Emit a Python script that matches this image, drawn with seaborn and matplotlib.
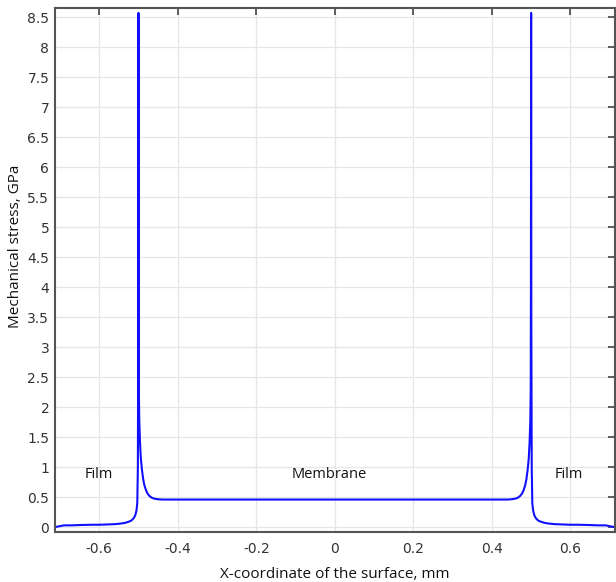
import numpy as np
import pandas as pd
import matplotlib
matplotlib.use('Agg')
import matplotlib.pyplot as plt
import seaborn as sns

# ---- data (x in mm, stress in GPa) ----
x_film_left = [-0.713, -0.705, -0.697, -0.690, -0.670, -0.650, -0.620, -0.600, -0.580,
               -0.560, -0.545, -0.535, -0.525, -0.518, -0.512, -0.508, -0.505,
               -0.503, -0.5015, -0.5005]
y_film_left = [0.00, 0.01, 0.02, 0.03, 0.03, 0.035, 0.04, 0.04, 0.045,
               0.05, 0.06, 0.07, 0.09, 0.11, 0.15, 0.20, 0.28,
               0.40, 1.00, 3.50]

x_peak_left = [-0.500]
y_peak_left = [8.57]

x_membrane = [-0.4995, -0.499, -0.498, -0.496, -0.494, -0.491, -0.488, -0.485,
              -0.481, -0.477, -0.472, -0.466, -0.460, -0.450, -0.440,
              -0.300, -0.200, -0.100, 0.000, 0.100, 0.200, 0.300,
              0.440, 0.450, 0.460, 0.466, 0.472, 0.477, 0.481, 0.485,
              0.488, 0.491, 0.494, 0.496, 0.498, 0.499, 0.4995]
y_membrane = [4.00, 2.30, 1.80, 1.40, 1.15, 0.95, 0.80, 0.70,
              0.62, 0.56, 0.52, 0.49, 0.475, 0.465, 0.46,
              0.46, 0.46, 0.46, 0.46, 0.46, 0.46, 0.46,
              0.46, 0.465, 0.475, 0.49, 0.52, 0.56, 0.62, 0.70,
              0.80, 0.95, 1.15, 1.40, 1.80, 2.30, 4.00]

x_peak_right = [0.500]
y_peak_right = [8.57]

x_film_right = [0.5005, 0.5015, 0.503, 0.505, 0.508, 0.512, 0.518, 0.525,
                0.535, 0.545, 0.560, 0.580, 0.600, 0.620, 0.650, 0.670,
                0.690, 0.697, 0.705, 0.713]
y_film_right = [3.50, 1.00, 0.40, 0.28, 0.20, 0.15, 0.11, 0.09,
                0.07, 0.06, 0.05, 0.045, 0.04, 0.04, 0.035, 0.03,
                0.03, 0.02, 0.01, 0.00]

x_ticks = [-0.6, -0.4, -0.2, 0, 0.2, 0.4, 0.6]
x_tick_labels = ['-0.6', '-0.4', '-0.2', '0', '0.2', '0.4', '0.6']
y_ticks = [0, 0.5, 1, 1.5, 2, 2.5, 3, 3.5, 4, 4.5, 5, 5.5, 6, 6.5, 7, 7.5, 8, 8.5]
y_tick_labels = ['0', '0.5', '1', '1.5', '2', '2.5', '3', '3.5', '4', '4.5',
                 '5', '5.5', '6', '6.5', '7', '7.5', '8', '8.5']

region_labels = ['Film', 'Membrane', 'Film']
region_x = [-0.6, -0.015, 0.597]

df = pd.DataFrame({
    'x': x_film_left + x_peak_left + x_membrane + x_peak_right + x_film_right,
    'stress': y_film_left + y_peak_left + y_membrane + y_peak_right + y_film_right,
})

sns.set_style('white')
plt.rcParams['font.family'] = ['DejaVu Sans']

fig = plt.figure(figsize=(6.16, 5.82), dpi=100)
ax = fig.add_axes([0.089, 0.086, 0.909, 0.900])

sns.lineplot(data=df, x='x', y='stress', sort=False, estimator=None,
             color='#1010ff', linewidth=1.5, ax=ax)

ax.set_xlim(-0.713, 0.713)
ax.set_ylim(-0.08, 8.65)

ax.set_xticks(x_ticks)
ax.set_xticklabels(x_tick_labels)
ax.set_yticks(y_ticks)
ax.set_yticklabels(y_tick_labels)

ax.grid(True, color='#e6e6e6', linewidth=0.9)
ax.set_axisbelow(True)

ax.tick_params(direction='in', length=5, width=1.2, color='#444444',
               top=True, right=True, labelsize=10, labelcolor='#333333')
ax.tick_params(axis='x', pad=7)
ax.tick_params(axis='y', pad=4)

for s in ax.spines.values():
    s.set_color('#555555')
    s.set_linewidth(1.5)

ax.set_xlabel('X-coordinate of the surface, mm', fontsize=11,
              family='Open Sans', color='#111111', labelpad=8)
ax.set_ylabel('Mechanical stress, GPa', fontsize=11,
              family='Open Sans', color='#111111')
ax.yaxis.set_label_coords(-0.057, 0.546)

for lab, xx in zip(region_labels, region_x):
    ax.text(xx, 0.87, lab, ha='center', va='center', fontsize=10.5,
            family='Open Sans', color='#111111')

fig.savefig('out.png', dpi=100)
